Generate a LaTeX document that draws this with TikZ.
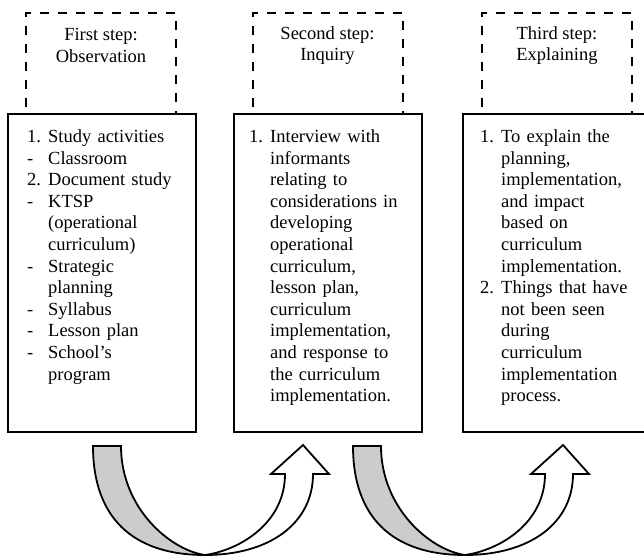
\documentclass[tikz,border=0pt]{standalone}
\usepackage{fontspec}
\setmainfont{Liberation Serif}
\usetikzlibrary{positioning}

\definecolor{arrowgray}{RGB}{204,204,204}
\newcommand{\itm}[1]{\makebox[21pt][l]{#1}}
\newcommand{\ind}{\hspace*{21pt}}

\tikzset{
	stepbox/.style={draw, line width=2pt, dash pattern=on 9pt off 9pt, minimum width=150pt, minimum height=101pt, inner sep=0pt},
	listbox/.style={draw, line width=2pt, fill=white, minimum width=188pt, minimum height=318pt, inner sep=0pt},
	steptext/.style={align=center, font=\fontsize{18.5}{21.3}\selectfont, inner sep=0pt},
	listtext/.style={align=left, text width=170pt, font=\fontsize{18.5}{21.6}\selectfont, inner sep=0pt, anchor=north west},
	turnback/.style={draw, line width=1.8pt, fill=arrowgray, line join=miter},
	turnup/.style={draw, line width=1.8pt, fill=white, line join=miter},
}

\begin{document}
\begin{tikzpicture}[x=1pt,y=1pt]
	\useasboundingbox (0,0) rectangle (644,558);

	\node[stepbox] (dash1) at (101,494.5) {};
	\node[stepbox] (dash2) at (327.5,494.5) {};
	\node[stepbox] (dash3) at (557,494.5) {};

	\node[steptext] (step1) at (101,512.5) {First step:\\Observation};
	\node[steptext] (step2) at (327.5,512.5) {Second step:\\Inquiry};
	\node[steptext] (step3) at (557,512.5) {Third step:\\Explaining};

	\node[listbox] (box1) at (102,285) {};
	\node[listbox] (box2) at (328,285) {};
	\node[listbox] (box3) at (557,285) {};

	\node[listtext] (list1) at (27,428.5) {\itm{1.}Study activities\\
		\itm{-}Classroom\\
		\itm{2.}Document study\\
		\itm{-}KTSP\\
		\ind(operational\\
		\ind curriculum)\\
		\itm{-}Strategic\\
		\ind planning\\
		\itm{-}Syllabus\\
		\itm{-}Lesson plan\\
		\itm{-}School’s\\
		\ind program};
	\node[listtext] (list2) at (249,428.5) {\itm{1.}Interview with\\
		\ind informants\\
		\ind relating to\\
		\ind considerations in\\
		\ind developing\\
		\ind operational\\
		\ind curriculum,\\
		\ind lesson plan,\\
		\ind curriculum\\
		\ind implementation,\\
		\ind and response to\\
		\ind the curriculum\\
		\ind implementation.};
	\node[listtext] (list3) at (480,428.5) {\itm{1.}To explain the\\
		\ind planning,\\
		\ind implementation,\\
		\ind and impact\\
		\ind based on\\
		\ind curriculum\\
		\ind implementation.\\
		\itm{2.}Things that have\\
		\ind not been seen\\
		\ind during\\
		\ind curriculum\\
		\ind implementation\\
		\ind process.};

	% curved arrows between the steps
	\foreach \dx in {0,260}{
		\begin{scope}[xshift=\dx]
			\path[turnback] (93,112) -- (121,112) .. controls (121,50) and (170,8) .. (205,3)
				.. controls (132,3) and (93,41) .. (93,112) -- cycle;
			\path[turnup] (205,3) .. controls (270,3) and (313,35) .. (313,84) -- (329,84) -- (303,113)
				-- (271,84) -- (285,84) .. controls (285,35) and (240,8) .. (205,3) -- cycle;
		\end{scope}
	}
\end{tikzpicture}
\end{document}
